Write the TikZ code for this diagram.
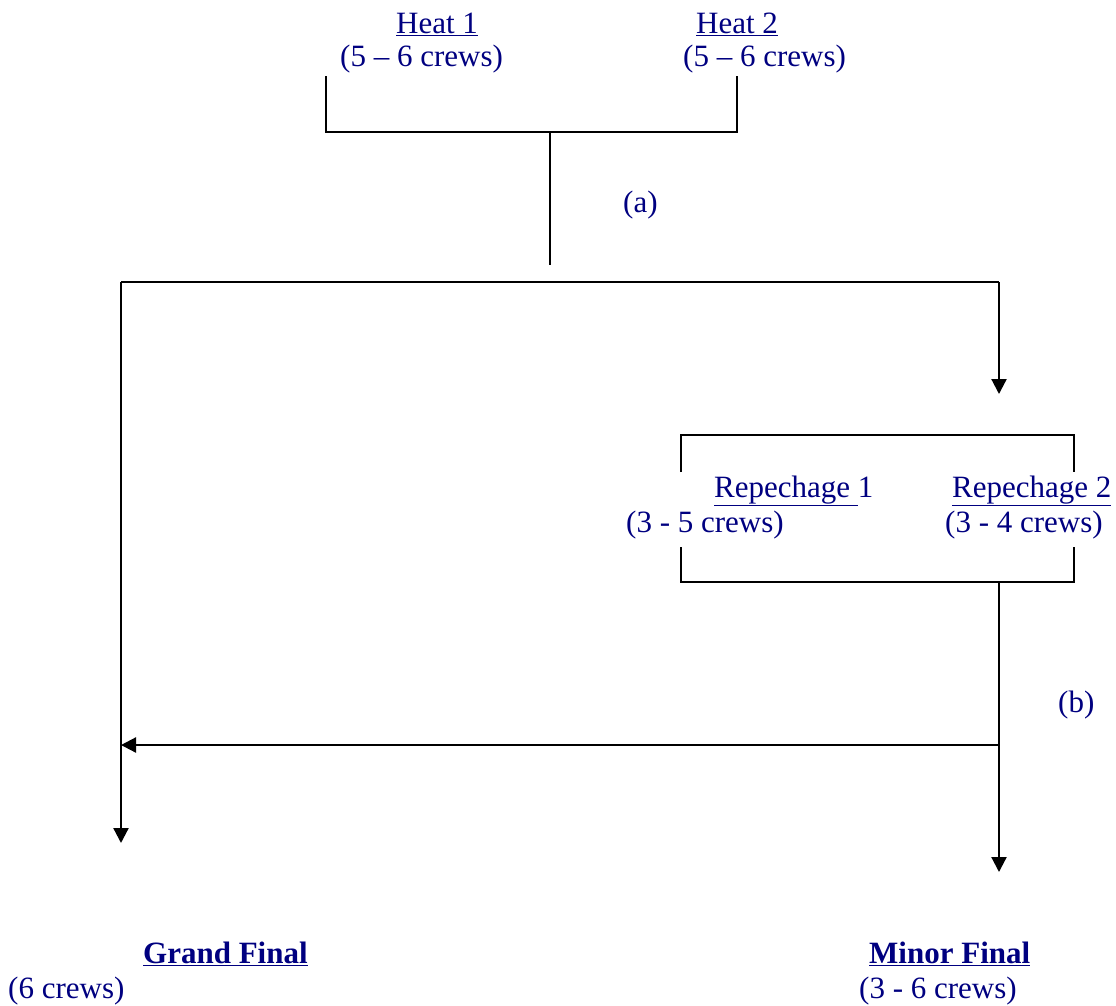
\documentclass[tikz,border=0pt]{standalone}
\usepackage{fontspec}
\setmainfont{Liberation Serif}
\usetikzlibrary{arrows.meta}
\definecolor{navy}{HTML}{000080}
\tikzset{
  lbl/.style={text=navy, inner sep=0pt, anchor=base west, font=\fontsize{31}{37}\selectfont},
  ln/.style={line width=2.2pt, draw=black},
  arr/.style={ln, -{Triangle[length=15pt,width=15pt]}},
}
\begin{document}
\begin{tikzpicture}[x=1pt,y=-1pt]
\useasboundingbox (0,0) rectangle (1116,1005);
% texts
\node[lbl] (h1) at (396,33) {\underline{Heat 1}};
\node[lbl] (h1c) at (340,66) {(5 -- 6 crews)};
\node[lbl] (h2) at (696,33) {\underline{Heat 2}};
\node[lbl] (h2c) at (683,66) {(5 -- 6 crews)};
\node[lbl] (a) at (623,212) {(a)};
\node[lbl] (r1) at (714,497) {\underline{Repechage\ }1};
\node[lbl] (r1c) at (626,532) {(3 - 5 crews)};
\node[lbl] (r2) at (952,497) {\underline{Repechage 2}};
\node[lbl] (r2c) at (945,532) {(3 - 4 crews)};
\node[lbl] (b) at (1058,712) {(b)};
\node[lbl] (gf) at (143,963) {\underline{\textbf{Grand Final}}};
\node[lbl] (gfc) at (8,998) {(6 crews)};
\node[lbl] (mf) at (869,963) {\underline{\textbf{Minor Final}}};
\node[lbl] (mfc) at (859,998) {(3 - 6 crews)};
% coordinates
\coordinate (hl) at (326,76);
\coordinate (hr) at (737,76);
\coordinate (hm) at (550,132);
\coordinate (hs) at (550,265);
\coordinate (jl) at (121,282);
\coordinate (jr) at (999,282);
\coordinate (gl) at (121,843);
\coordinate (rt) at (999,394);
\coordinate (bl1) at (681,472);
\coordinate (bl2) at (681,547);
\coordinate (br1) at (1074,472);
\coordinate (br2) at (1074,547);
\coordinate (rb) at (999,582);
\coordinate (rj) at (999,745);
\coordinate (ml) at (121,745);
\coordinate (mb) at (999,872);
% heat bracket
\draw[ln] (hl) |- (hm) -| (hr);
\draw[ln] (hm) -- (hs);
% split
\draw[arr] (jl |- jr) -- (gl);
\draw[ln] (jl) -- (jr);
\draw[arr] (jr) -- (rt);
% repechage bracket
\draw[ln] (bl1) -- (bl1 |- 0,435) -- (br1 |- 0,435) -- (br1);
\draw[ln] (bl2) -- (bl2 |- 0,582) -- (br2 |- 0,582) -- (br2);
% to finals
\draw[arr] (rb) -- (mb);
\draw[arr] (rj) -- (ml);
\end{tikzpicture}
\end{document}
